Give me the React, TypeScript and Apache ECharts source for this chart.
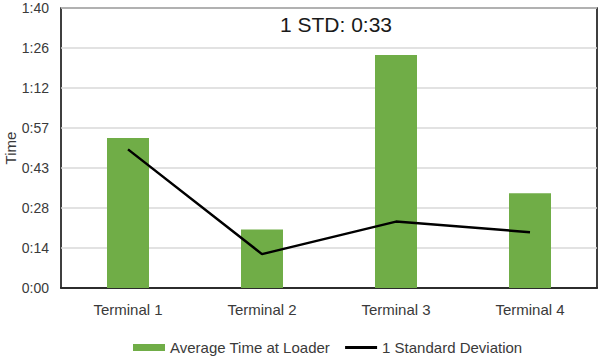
import React, { useEffect, useRef } from "react";
import * as echarts from "echarts";

const categories = ["Terminal 1", "Terminal 2", "Terminal 3", "Terminal 4"];
// values in seconds
const avgTimeAtLoader = [54.0, 21.1, 83.9, 34.1];
const oneStdDev = [49.9, 12.2, 23.9, 20.1];
const annotation = "1 STD: 0:33";
const yMin = 0;
const yMax = 100.8;
const yInterval = 14.4;

function fmtTime(v: number): string {
  const s = Math.floor(v + 1e-6);
  const m = Math.floor(s / 60);
  const ss = s % 60;
  return `${m}:${ss < 10 ? "0" + ss : ss}`;
}

export default function App() {
  const ref = useRef<HTMLDivElement>(null);
  useEffect(() => {
    if (!ref.current) return;
    const chart = echarts.init(ref.current, undefined, { renderer: "svg" });
    const font = "'Liberation Sans', Arial, sans-serif";
    const textColor = "#3a3a3a";
    chart.setOption({
      animation: false,
      textStyle: { fontFamily: font },
      title: {
        text: annotation,
        left: 331,
        top: 9,
        textAlign: "center",
        textStyle: { fontFamily: font, fontSize: 21, fontWeight: "normal", color: "#1a1a1a" },
      },
      grid: {
        left: 61,
        right: 3,
        top: 8,
        bottom: 71,
        show: true,
        borderColor: "#000",
        borderWidth: 1.5,
        containLabel: false,
        outerBoundsMode: "none",
      },
      legend: {
        left: 133,
        top: 340,
        padding: 0,
        itemWidth: 32,
        itemHeight: 7,
        itemGap: 15,
        textStyle: { fontFamily: font, fontSize: 15, color: textColor },
        data: [
          { name: "Average Time at Loader", icon: "rect" },
          {
            name: "1 Standard Deviation",
            icon: "path://M0 0 H32 V3 H0 Z",
            itemStyle: { color: "#000" },
          },
        ],
      },
      xAxis: {
        type: "category",
        data: categories,
        axisTick: { show: false },
        axisLine: { show: true, lineStyle: { color: "#000", width: 1.5 } },
        axisLabel: { fontFamily: font, fontSize: 15, color: textColor, margin: 14 },
      },
      yAxis: {
        type: "value",
        min: yMin,
        max: yMax,
        interval: yInterval,
        name: "Time",
        nameLocation: "middle",
        nameGap: 43,
        nameRotate: 90,
        nameMoveOverlap: false,
        nameTextStyle: { fontFamily: font, fontSize: 15, color: textColor },
        axisLine: { show: false },
        axisTick: { show: false },
        splitLine: { show: true, lineStyle: { color: "#d9d9d9", width: 1.5 } },
        axisLabel: {
          fontFamily: font,
          fontSize: 14,
          color: textColor,
          margin: 12,
          formatter: (v: number) => fmtTime(v),
        },
      },
      series: [
        {
          name: "Average Time at Loader",
          type: "bar",
          data: avgTimeAtLoader,
          barWidth: 42,
          itemStyle: { color: "#70ad47" },
        },
        {
          name: "1 Standard Deviation",
          type: "line",
          data: oneStdDev,
          symbol: "none",
          lineStyle: { color: "#000", width: 2.5 },
          itemStyle: { color: "#000" },
          z: 5,
        },
      ],
    });
    return () => chart.dispose();
  }, []);
  return (
    <div
      ref={ref}
      style={{ position: "absolute", left: 0, top: 0, width: 600, height: 359 }}
    />
  );
}
